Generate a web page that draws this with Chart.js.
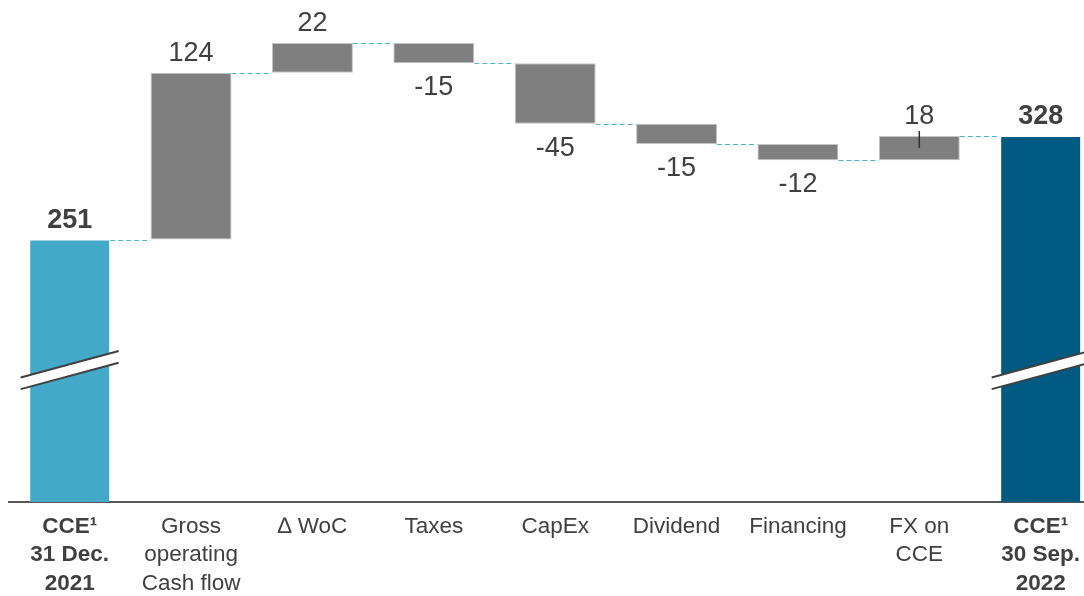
<!DOCTYPE html>
<html>
<head>
<meta charset="utf-8">
<script src="https://cdn.jsdelivr.net/npm/chart.js@4"></script>
<style>
  html, body { margin: 0; padding: 0; background: #fff; }
  #wrap { width: 1084px; height: 596px; position: relative; }
</style>
</head>
<body>
<div id="wrap"><canvas id="grafico-cce"></canvas></div>
<script>
// valores
const categorias = [
  ['CCE¹', '31 Dec.', '2021'],
  ['Gross', 'operating', 'Cash flow'],
  ['∆ WoC'],
  ['Taxes'],
  ['CapEx'],
  ['Dividend'],
  ['Financing'],
  ['FX on', 'CCE'],
  ['CCE¹', '30 Sep.', '2022']
];
const valorInicial = 251;
const variacoes = [124, 22, -15, -45, -15, -12, 18];
const valorFinal = 328;
const eixoMin = 56;
const eixoMax = 429;
const nivelQuebra = 154; // onde fica o símbolo de quebra nas barras totais

const FONTE = '"Liberation Sans", Arial, sans-serif';
const COR_TEXTO = '#404040';

// monta as barras flutuantes
const barras = [{ x: 0, y: valorInicial }];
let acumulado = valorInicial;
variacoes.forEach((v, i) => {
  barras.push({ x: i + 1, y: [acumulado, acumulado + v] });
  acumulado += v;
});
barras.push({ x: categorias.length - 1, y: valorFinal });

const ultimo = categorias.length - 1;
const coresBarras = barras.map((_, i) => i === 0 ? '#44A8C8' : i === ultimo ? '#005A82' : '#7F7F7F');
const bordasBarras = barras.map((_, i) => (i === 0 || i === ultimo) ? 'rgba(0,0,0,0)' : '#C4C4C4');

const pluginCascata = {
  id: 'cascata',
  afterDatasetsDraw(chart) {
    const ctx = chart.ctx;
    const meta = chart.getDatasetMeta(0);
    const y = chart.scales.y;

    // linhas tracejadas entre as barras
    ctx.save();
    ctx.strokeStyle = '#4FB3D6';
    ctx.lineWidth = 1;
    ctx.setLineDash([5, 3]);
    let nivel = valorInicial;
    for (let i = 0; i < meta.data.length - 1; i++) {
      if (i > 0) nivel += variacoes[i - 1];
      const a = meta.data[i], b = meta.data[i + 1];
      const py = Math.round(y.getPixelForValue(nivel)) + 0.5;
      ctx.beginPath();
      ctx.moveTo(a.x + a.width / 2, py);
      ctx.lineTo(b.x - b.width / 2, py);
      ctx.stroke();
    }
    ctx.restore();

    // símbolo de quebra nas barras de total
    [0, ultimo].forEach(i => {
      const bar = meta.data[i];
      const cy = y.getPixelForValue(nivelQuebra);
      const x1 = bar.x - 49, x2 = bar.x + 49;
      const dy = 13.2, gap = 11.7;
      ctx.save();
      ctx.fillStyle = '#fff';
      ctx.beginPath();
      ctx.moveTo(x1, cy + dy - gap / 2);
      ctx.lineTo(x2, cy - dy - gap / 2);
      ctx.lineTo(x2, cy - dy + gap / 2);
      ctx.lineTo(x1, cy + dy + gap / 2);
      ctx.closePath();
      ctx.fill();
      ctx.strokeStyle = '#404040';
      ctx.lineWidth = 2;
      ctx.beginPath();
      ctx.moveTo(x1, cy + dy - gap / 2);
      ctx.lineTo(x2, cy - dy - gap / 2);
      ctx.moveTo(x1, cy + dy + gap / 2);
      ctx.lineTo(x2, cy - dy + gap / 2);
      ctx.stroke();
      ctx.restore();
    });

    // pequeno traço na barra FX
    const fx = meta.data[ultimo - 1];
    ctx.save();
    ctx.strokeStyle = '#303030';
    ctx.lineWidth = 1.5;
    ctx.beginPath();
    ctx.moveTo(fx.x, fx.y - 5);
    ctx.lineTo(fx.x, fx.y + 12);
    ctx.stroke();
    ctx.restore();

    // rótulos de valor
    ctx.save();
    ctx.fillStyle = COR_TEXTO;
    ctx.textAlign = 'center';
    ctx.textBaseline = 'alphabetic';
    meta.data.forEach((bar, i) => {
      let texto, acima, negrito = false;
      if (i === 0) { texto = valorInicial; acima = true; negrito = true; }
      else if (i === ultimo) { texto = valorFinal; acima = true; negrito = true; }
      else { texto = variacoes[i - 1]; acima = texto >= 0; }
      ctx.font = (negrito ? 'bold ' : '') + '27px ' + FONTE;
      const topo = Math.min(bar.y, bar.base);
      const fundo = Math.max(bar.y, bar.base);
      const py = acima ? topo - 12 : fundo + 32;
      ctx.fillText(String(texto), bar.x, py);
    });
    ctx.restore();
  }
};

new Chart(document.getElementById('grafico-cce').getContext('2d'), {
  type: 'bar',
  data: {
    datasets: [{
      data: barras,
      backgroundColor: coresBarras,
      borderColor: bordasBarras,
      borderWidth: 1,
      borderSkipped: false,
      barPercentage: 0.667,
      categoryPercentage: 1
    }]
  },
  options: {
    responsive: true,
    maintainAspectRatio: false,
    animation: false,
    layout: { padding: { left: 9, right: 0, top: 0, bottom: 0 } },
    plugins: { legend: { display: false }, tooltip: { enabled: false } },
    scales: {
      x: {
        type: 'linear',
        offset: false,
        min: -0.5,
        max: 8.357,
        grid: { display: false, drawTicks: false },
        border: { display: true, color: '#595959', width: 2 },
        afterBuildTicks: axis => { axis.ticks = categorias.map((_, i) => ({ value: i })); },
        afterFit: axis => {
          axis.height = 94;
          axis.paddingLeft = 0;
          axis.paddingRight = 0;
        },
        ticks: {
          autoSkip: false,
          maxRotation: 0,
          padding: 11,
          color: COR_TEXTO,
          callback: v => categorias[v],
          font: c => ({
            family: FONTE,
            size: 22.5,
            lineHeight: 1.25,
            weight: (c.index === 0 || c.index === ultimo) ? 'bold' : 'normal'
          })
        }
      },
      y: {
        display: false,
        min: eixoMin,
        max: eixoMax
      }
    }
  },
  plugins: [pluginCascata]
});
</script>
</body>
</html>
